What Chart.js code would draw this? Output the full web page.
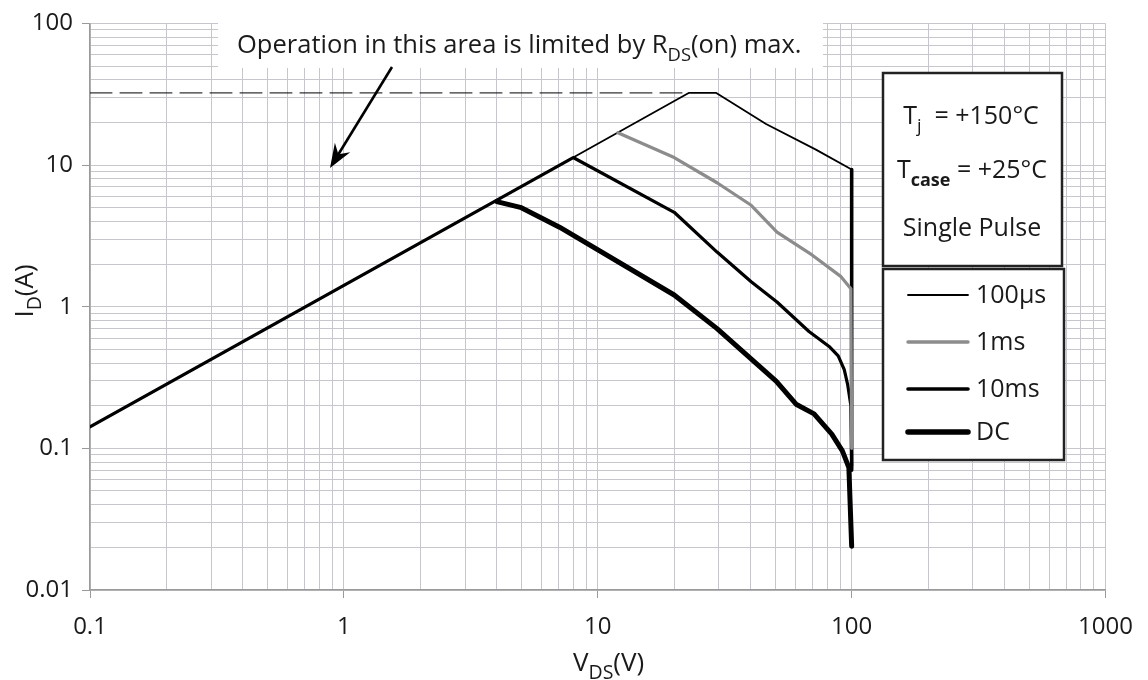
<!DOCTYPE html>
<html>
<head>
<meta charset="utf-8">
<script src="https://cdn.jsdelivr.net/npm/chart.js@4"></script>
<style>
  html, body { margin: 0; padding: 0; background: #fff; }
  #wrap { width: 1148px; height: 680px; }
</style>
</head>
<body>
<div id="wrap"><canvas id="soa"></canvas></div>
<script>
// axis ticks
const xMajor = [0.1, 1, 10, 100, 1000];
const xMajorLabels = ['0.1', '1', '10', '100', '1000'];
const yMajor = [0.01, 0.1, 1, 10, 100];
const yMajorLabels = ['0.01', '0.1', '1', '10', '100'];

// 100us pulse (thin black)
const v100us = [8, 22.8, 29.3, 46, 72, 100, 100];
const i100us = [11.3, 32.3, 32.3, 19.5, 12.9, 9.3, 0.07];
// 1ms pulse (grey)
const v1ms = [12, 20, 29.5, 40.2, 50.8, 69.8, 90.8, 99.3, 100];
const i1ms = [16.9, 11.3, 7.5, 5.2, 3.36, 2.32, 1.63, 1.34, 0.1];
// 10ms pulse, includes the RDS(on) line from 0.1V
const v10ms = [0.1, 8, 20, 29.5, 40.2, 50.8, 67.9, 81.5, 88.5, 93.5, 96.5, 99.3, 100];
const i10ms = [0.1416, 11.3, 4.64, 2.43, 1.5, 1.08, 0.668, 0.524, 0.45, 0.36, 0.28, 0.2, 0.075];
// DC
const vDC = [4, 5, 7.07, 20, 29.5, 50.4, 60.4, 71.1, 83.5, 91.9, 97.5, 100];
const iDC = [5.52, 5.0, 3.64, 1.21, 0.7, 0.298, 0.205, 0.175, 0.126, 0.096, 0.073, 0.0204];
// RDS(on) limit, dashed
const vLimit = [0.1, 22.8];
const iLimit = [32.3, 32.3];

function pts(xs, ys) {
  return xs.map((x, i) => ({ x: x, y: ys[i] }));
}

function logTicks(majors) {
  const t = [];
  for (let i = 0; i < majors.length - 1; i++) {
    for (let m = 1; m < 10; m++) t.push({ value: majors[i] * m, major: m === 1 });
  }
  t.push({ value: majors[majors.length - 1], major: true });
  return t;
}

const FONT = '"Open Sans", "Noto Sans", sans-serif';
const TXT = '#1a1a1a';
const GRID = '#c6c6cc';

// text with subscript pieces: [text, sub, bold]
function drawRuns(ctx, parts, size, x, y, align, subScale) {
  const ss = subScale || 0.72;
  const fnt = (p) => (p[2] ? 'bold ' : '') + (p[1] ? size * ss : size) + 'px ' + FONT;
  let w = 0;
  parts.forEach((p) => { ctx.font = fnt(p); w += ctx.measureText(p[0]).width; });
  let cx = align === 'center' ? x - w / 2 : x;
  parts.forEach((p) => {
    ctx.font = fnt(p);
    ctx.fillText(p[0], cx, p[1] ? y + size * 0.32 : y);
    cx += ctx.measureText(p[0]).width;
  });
  return w;
}

const notes = {
  id: 'notes',
  afterDraw(chart) {
    const ctx = chart.ctx;
    ctx.save();
    ctx.fillStyle = TXT;
    ctx.textBaseline = 'alphabetic';

    // annotation text box
    ctx.fillStyle = '#fff';
    ctx.fillRect(218, 22, 605, 46);
    ctx.fillStyle = TXT;
    const ann = [['Operation in this area is limited by R'], ['DS', true], ['(on) max.']];
    ctx.globalAlpha = 0;
    const w0 = drawRuns(ctx, ann, 22, 0, 0, 'left');
    ctx.globalAlpha = 1;
    drawRuns(ctx, ann, 22 * 565 / w0, 237, 53, 'left');

    // arrow
    const x0 = 392, y0 = 67, x1 = 330, y1 = 168;
    const ang = Math.atan2(y1 - y0, x1 - x0);
    const c = Math.cos(ang), s = Math.sin(ang);
    ctx.strokeStyle = '#000';
    ctx.lineWidth = 2.6;
    ctx.beginPath();
    ctx.moveTo(x0, y0);
    ctx.lineTo(x1 - 12 * c, y1 - 12 * s);
    ctx.stroke();
    ctx.fillStyle = '#000';
    ctx.beginPath();
    ctx.moveTo(x1, y1);
    ctx.lineTo(x1 - 24 * c + 9 * s, y1 - 24 * s - 9 * c);
    ctx.lineTo(x1 - 16 * c, y1 - 16 * s);
    ctx.lineTo(x1 - 24 * c - 9 * s, y1 - 24 * s + 9 * c);
    ctx.closePath();
    ctx.fill();

    // conditions box
    ctx.fillStyle = '#fff';
    ctx.fillRect(883, 73, 179, 193);
    ctx.strokeStyle = '#222';
    ctx.lineWidth = 2.5;
    ctx.strokeRect(883, 73, 179, 193);
    ctx.fillStyle = TXT;
    drawRuns(ctx, [['T'], ['j', true], ['  = +150°C']], 25, 971, 124, 'center');
    drawRuns(ctx, [['T'], ['case', true, true], [' = +25°C']], 25, 972, 178, 'center');
    drawRuns(ctx, [['Single Pulse']], 25, 972, 236, 'center');

    // legend box
    ctx.fillStyle = '#fff';
    ctx.fillRect(883, 269, 181, 191);
    ctx.strokeRect(883, 269, 181, 191);
    const legendY = [295, 342, 389, 432];
    const legendW = [1.8, 3.4, 3.6, 5.5];
    const legendSets = [3, 0, 2, 1];
    ctx.textBaseline = 'middle';
    legendSets.forEach((di, k) => {
      const ds = chart.data.datasets[di];
      ctx.strokeStyle = ds.borderColor;
      ctx.lineWidth = legendW[k];
      ctx.lineCap = 'round';
      ctx.beginPath();
      ctx.moveTo(908, legendY[k]);
      ctx.lineTo(968, legendY[k]);
      ctx.stroke();
      ctx.fillStyle = TXT;
      ctx.font = '25px ' + FONT;
      ctx.fillText(ds.label, 976, legendY[k] + 1);
    });

    // axis titles
    ctx.textBaseline = 'alphabetic';
    ctx.fillStyle = TXT;
    drawRuns(ctx, [['V'], ['DS', true], ['(V)']], 26, 573, 671, 'left', 0.75);
    ctx.translate(33, 291);
    ctx.rotate(-Math.PI / 2);
    drawRuns(ctx, [['I'], ['D', true], ['(A)']], 26, 0, 0, 'center', 0.75);
    ctx.restore();
  }
};

const ctxSoa = document.getElementById('soa').getContext('2d');
const chartSoa = new Chart(ctxSoa, {
  type: 'line',
  data: {
    datasets: [
      { label: '1ms', data: pts(v1ms, i1ms), borderColor: '#8c8c8c', borderWidth: 3.2, order: 1 },
      { label: 'DC', data: pts(vDC, iDC), borderColor: '#000', borderWidth: 5, order: 2 },
      { label: '10ms', data: pts(v10ms, i10ms), borderColor: '#000', borderWidth: 3.2, order: 3 },
      {
        label: '100µs', data: pts(v100us, i100us), borderColor: '#000', borderWidth: 1.8, order: 4,
        segment: { borderWidth: (c) => (c.p0.parsed.x > 99.9 && c.p1.parsed.x > 99.9 ? 3.6 : 1.8) },
      },
      { label: 'limit', data: pts(vLimit, iLimit), borderColor: '#000', borderWidth: 1, borderDash: [22, 8], order: 5 },
    ],
  },
  options: {
    responsive: true,
    maintainAspectRatio: false,
    animation: false,
    layout: { padding: { left: 0, top: 20, right: 41, bottom: 0 } },
    elements: {
      point: { radius: 0 },
      line: { tension: 0, borderJoinStyle: 'round', borderCapStyle: 'round' },
    },
    plugins: { legend: { display: false }, tooltip: { enabled: false } },
    scales: {
      x: {
        type: 'logarithmic',
        min: 0.1,
        max: 1000,
        afterBuildTicks: (scale) => { scale.ticks = logTicks(xMajor); },
        afterFit: (scale) => { scale.height = 90; },
        grid: {
          color: GRID,
          lineWidth: 1,
          tickLength: 8,
          tickColor: (c) => (c.tick && c.tick.major ? '#9a9a9a' : 'rgba(0,0,0,0)'),
        },
        border: { color: '#9a9a9a', width: 1.5 },
        ticks: {
          autoSkip: false,
          maxRotation: 0,
          padding: 15,
          color: TXT,
          font: { family: FONT, size: 24 },
          callback: (v, i, t) => (t[i].major ? xMajorLabels[xMajor.findIndex((m) => Math.abs(m - v) < m * 1e-6)] : ''),
        },
      },
      y: {
        type: 'logarithmic',
        min: 0.01,
        max: 100,
        afterBuildTicks: (scale) => { scale.ticks = logTicks(yMajor); },
        afterFit: (scale) => { scale.width = 90; },
        grid: {
          color: GRID,
          lineWidth: 1,
          tickLength: 8,
          tickColor: (c) => (c.tick && c.tick.major ? '#9a9a9a' : 'rgba(0,0,0,0)'),
        },
        border: { color: '#9a9a9a', width: 1.5 },
        ticks: {
          autoSkip: false,
          padding: 9,
          color: TXT,
          font: { family: FONT, size: 24 },
          callback: (v, i, t) => (t[i].major ? yMajorLabels[yMajor.findIndex((m) => Math.abs(m - v) < m * 1e-6)] : ''),
        },
      },
    },
  },
  plugins: [notes],
});
</script>
</body>
</html>
